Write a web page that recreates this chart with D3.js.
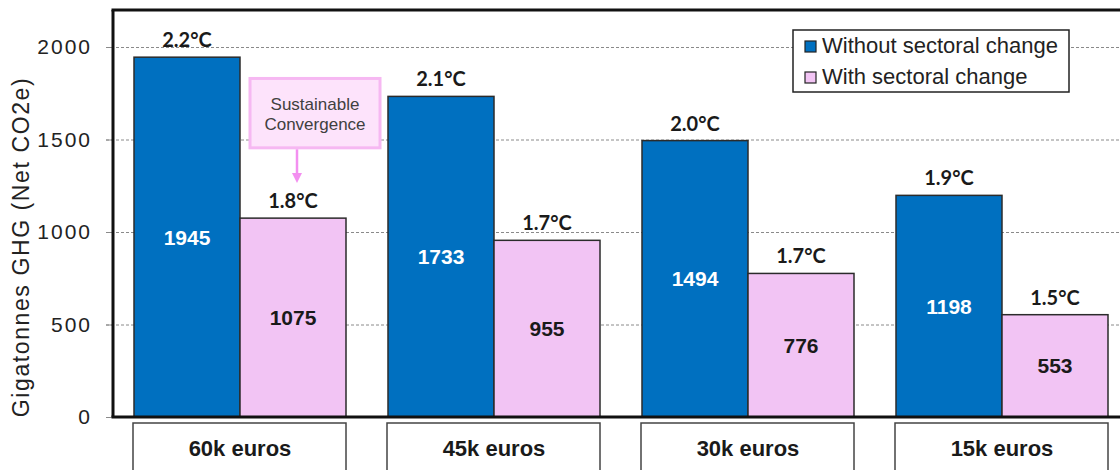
<!DOCTYPE html>
<html>
<head>
<meta charset="utf-8">
<script src="https://cdn.jsdelivr.net/npm/d3@7"></script>
<style>
    body { margin: 0; background: #fff; }
    svg { display: block; font-family: "Liberation Sans", Arial, sans-serif; }
</style>
</head>
<body>
<div id="chart"></div>
<script>
// Data
const groups = ["60k euros", "45k euros", "30k euros", "15k euros"];
const seriesNames = ["Without sectoral change", "With sectoral change"];
const withoutChange = [1945, 1733, 1494, 1198];
const withChange = [1075, 955, 776, 553];
const tempWithout = ["2.2°C", "2.1°C", "2.0°C", "1.9°C"];
const tempWith = ["1.8°C", "1.7°C", "1.7°C", "1.5°C"];
const yTicks = [0, 500, 1000, 1500, 2000];
const yTitle = "Gigatonnes GHG (Net CO2e)";
const noteLines = ["Sustainable", "Convergence"];

const width = 1120, height = 470;
const plot = { left: 113, top: 10, bottom: 417, right: 1120 };
const colors = ["#0070c0", "#f2c4f4"];

const svg = d3.select("#chart").append("svg")
    .attr("width", width)
    .attr("height", height);

svg.append("rect").attr("width", width).attr("height", height).attr("fill", "#fff");

const y = d3.scaleLinear().domain([0, 2000]).range([plot.bottom, 47]);

// step of 254px, 42px gap between groups
const x0 = d3.scaleBand()
    .domain(groups)
    .range([plot.left, plot.left + 4 * 254])
    .paddingInner(42 / 254)
    .paddingOuter(21 / 254);

const x1 = d3.scaleBand()
    .domain(seriesNames)
    .range([0, x0.bandwidth()]);

const rows = groups.map((g, i) => ({
    group: g,
    values: [
        { key: seriesNames[0], value: withoutChange[i], temp: tempWithout[i] },
        { key: seriesNames[1], value: withChange[i], temp: tempWith[i] }
    ]
}));

// dashed gridlines (they also make the little tick marks left of the axis)
const grid = svg.append("g")
    .attr("transform", `translate(106,0)`)
    .call(d3.axisRight(y).tickValues(yTicks).tickSize(plot.right - 106).tickFormat(""));
grid.select(".domain").remove();
grid.selectAll("line")
    .attr("stroke", "#8a8a8a")
    .attr("stroke-width", 1)
    .attr("stroke-dasharray", "3,2");

// y axis labels
const yAxis = svg.append("g")
    .attr("transform", `translate(${plot.left},0)`)
    .call(d3.axisLeft(y).tickValues(yTicks).tickFormat(d3.format("d")).tickSize(7).tickPadding(14));
yAxis.select(".domain").remove();
yAxis.selectAll("line").attr("stroke", "#8a8a8a");
yAxis.selectAll("text")
    .attr("fill", "#222")
    .style("font-size", "21px")
    .style("letter-spacing", "2px")
    .style("font-family", "'Liberation Sans', Arial, sans-serif");

svg.append("text")
    .attr("transform", `translate(29,247) rotate(-90)`)
    .attr("text-anchor", "middle")
    .attr("fill", "#222")
    .style("font-size", "23px")
    .style("letter-spacing", "1.6px")
    .text(yTitle);

// bars
const group = svg.selectAll("g.group")
    .data(rows)
    .enter().append("g")
    .attr("class", "group")
    .attr("transform", d => `translate(${x0(d.group)},0)`);

group.selectAll("rect")
    .data(d => d.values)
    .enter().append("rect")
    .attr("x", d => x1(d.key))
    .attr("y", d => y(d.value))
    .attr("width", x1.bandwidth())
    .attr("height", d => y(0) - y(d.value))
    .attr("fill", (d, i) => colors[i])
    .attr("stroke", "#2b2b2b")
    .attr("stroke-width", 1.5);

// values inside bars
group.selectAll("text.value")
    .data(d => d.values)
    .enter().append("text")
    .attr("class", "value")
    .attr("x", d => x1(d.key) + x1.bandwidth() / 2)
    .attr("y", d => y(d.value / 2))
    .attr("dy", "0.36em")
    .attr("text-anchor", "middle")
    .attr("fill", (d, i) => i === 0 ? "#fff" : "#1a1a1a")
    .style("font-size", "21px")
    .style("font-weight", "bold")
    .text(d => d.value);

// temperature labels above bars
group.selectAll("text.temp")
    .data(d => d.values)
    .enter().append("text")
    .attr("class", "temp")
    .attr("x", d => x1(d.key) + x1.bandwidth() / 2)
    .attr("y", d => y(d.value) - 10)
    .attr("text-anchor", "middle")
    .attr("fill", "#1a1a1a")
    .style("font-family", "Lato, 'Open Sans', sans-serif")
    .style("font-size", "20px")
    .style("font-weight", "bold")
    .text(d => d.temp);

// frame: left, top and bottom lines
const frame = svg.append("g").attr("stroke", "#111").attr("stroke-width", 3);
frame.append("line").attr("x1", plot.left).attr("x2", plot.left).attr("y1", plot.top).attr("y2", plot.bottom);
frame.append("line").attr("x1", plot.left - 1.5).attr("x2", plot.right).attr("y1", plot.top).attr("y2", plot.top);
frame.append("line").attr("x1", plot.left - 1.5).attr("x2", plot.right).attr("y1", plot.bottom).attr("y2", plot.bottom);

// category boxes under the axis
const cat = svg.selectAll("g.cat")
    .data(groups)
    .enter().append("g")
    .attr("class", "cat")
    .attr("transform", d => `translate(${x0(d)},0)`);

cat.append("rect")
    .attr("x", -1)
    .attr("y", 423)
    .attr("width", x0.bandwidth() + 1)
    .attr("height", 70)
    .attr("fill", "#fff")
    .attr("stroke", "#444")
    .attr("stroke-width", 1.5);

cat.append("text")
    .attr("x", x0.bandwidth() / 2)
    .attr("y", 448)
    .attr("dy", "0.36em")
    .attr("text-anchor", "middle")
    .attr("fill", "#1a1a1a")
    .style("font-size", "22px")
    .style("font-weight", "bold")
    .text(d => d);

// "Sustainable Convergence" note pointing at the first pink bar
const noteX = x0(groups[0]) + x1(seriesNames[1]);
const note = svg.append("g");
note.append("rect")
    .attr("x", noteX + 10)
    .attr("y", y(1830))
    .attr("width", 130)
    .attr("height", y(1455) - y(1830))
    .attr("fill", "#fde3fb")
    .attr("stroke", "#f6b8f2")
    .attr("stroke-width", 3);

note.selectAll("text")
    .data(noteLines)
    .enter().append("text")
    .attr("x", noteX + 75)
    .attr("y", (d, i) => y(1830) + 26 + i * 20)
    .attr("dy", "0.35em")
    .attr("text-anchor", "middle")
    .attr("fill", "#404040")
    .style("font-size", "17px")
    .text(d => d);

const arrowX = noteX + x1.bandwidth() / 2 + 4;
const arrowTip = y(1265);
note.append("line")
    .attr("x1", arrowX).attr("x2", arrowX)
    .attr("y1", y(1455) + 1.5).attr("y2", arrowTip - 9)
    .attr("stroke", "#f38ff0")
    .attr("stroke-width", 2.5);
note.append("path")
    .attr("d", `M${arrowX - 5},${arrowTip - 10}L${arrowX + 5},${arrowTip - 10}L${arrowX},${arrowTip}Z`)
    .attr("fill", "#f38ff0");

// legend
const legend = svg.append("g").attr("transform", "translate(793,30)");
legend.append("rect")
    .attr("width", 276)
    .attr("height", 62)
    .attr("fill", "#fff")
    .attr("stroke", "#222")
    .attr("stroke-width", 1.5);

const item = legend.selectAll("g.item")
    .data(seriesNames)
    .enter().append("g")
    .attr("class", "item")
    .attr("transform", (d, i) => `translate(12,${11 + i * 31})`);

item.append("rect")
    .attr("width", 11)
    .attr("height", 11)
    .attr("fill", (d, i) => colors[i])
    .attr("stroke", "#222")
    .attr("stroke-width", 1.2);

item.append("text")
    .attr("x", 17)
    .attr("y", 12)
    .attr("fill", "#222")
    .style("font-size", "22px")
    .text(d => d);
</script>
</body>
</html>
